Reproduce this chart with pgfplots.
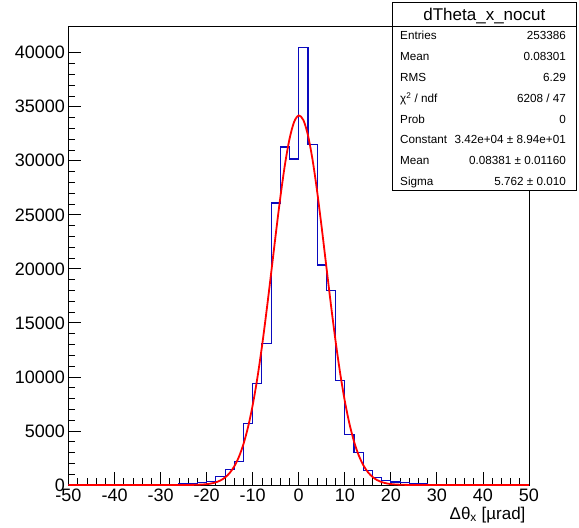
\documentclass[border=0pt]{standalone}
\usepackage{pgfplots}
\pgfplotsset{compat=1.18}
\usepackage{fontspec}
\setmainfont{Liberation Sans}
\definecolor{histblue}{RGB}{10,10,190}
\begin{document}
\begin{tikzpicture}[x=1pt,y=1pt]
\begin{axis}[
  at={(0,0)}, anchor=south west,
  scale only axis, width=460.5pt, height=459pt,
  xmin=-50, xmax=50, ymin=0, ymax=42470,
  scaled y ticks=false, scaled x ticks=false,
  xtick={-50,-40,...,50},
  xticklabels={-50,-40,-30,-20,-10,0,10,20,30,40,50},
  minor x tick num=4,
  ytick={0,5000,...,40000},
  yticklabels={0,5000,10000,15000,20000,25000,30000,35000,40000},
  minor y tick num=4,
  xtick pos=left, ytick pos=left,
  tick align=inside,
  major tick length=13pt, minor tick length=7pt,
  every tick/.style={black, line width=0.8pt},
  axis line style={line width=0.9pt},
  tick label style={font=\fontsize{18}{18}\selectfont},
  clip=true,
]
\addplot[const plot, histblue, line width=1.1pt] coordinates {
(-50,5) (-48,5) (-46,8) (-44,10) (-42,12) (-40,15) (-38,18) (-36,22)
(-34,28) (-32,35) (-30,45) (-28,60) (-26,90) (-24,140) (-22,200) (-20,300)
(-18,750) (-16,1400) (-14,2170) (-12,5690) (-10,9410) (-8,13060) (-6,26090)
(-4,31270) (-2,30160) (0,40450) (2,31480) (4,20360) (6,17980) (8,9660)
(10,4640) (12,2980) (14,1380) (16,670) (18,400) (20,280) (22,190) (24,140)
(26,100) (28,70) (30,50) (32,40) (34,30) (36,25) (38,20) (40,15) (42,12)
(44,10) (46,8) (48,5) (50,5)
};
\addplot[red, line width=1.8pt, smooth] coordinates {
(-50,0) (-30,0) (-25,3) (-22,22) (-20,79) (-19,142) (-18,248) (-17,422)
(-16,695) (-15,1111) (-14,1725) (-13,2596) (-12,3793) (-11,5377) (-10,7395)
(-9,9870) (-8,12782) (-7,16063) (-6,19586) (-5,23173) (-4,26604) (-3,29636)
(-2,32035) (-1,33600) (0,34196) (1,33770) (2,32360) (3,30088) (4,27147)
(5,23766) (6,20189) (7,16641) (8,13309) (9,10329) (10,7778) (11,5683)
(12,4030) (13,2773) (14,1851) (15,1199) (16,754) (17,460) (18,272) (19,156)
(20,87) (22,25) (25,3) (30,0) (50,0)
};
\end{axis}
\node[anchor=base east, font=\fontsize{17}{17}\selectfont] at (460.5,-34) {Δθ\textsubscript{x} [µrad]};
% stats box
\draw[fill=white, line width=0.9pt] (324.2,295) rectangle (507.5,483);
\draw[line width=0.9pt] (324.2,459) -- (507.5,459);
\node[anchor=base, font=\fontsize{17}{17}\selectfont] at (415.85,464.3) {dTheta\_x\_nocut};
\begin{scope}[every node/.style={font=\fontsize{11.7}{11.7}\selectfont, inner sep=0pt}]
\node[anchor=base west] at (331.5,445) {Entries};
\node[anchor=base east] at (497.5,445) {253386};
\node[anchor=base west] at (331.5,424.2) {Mean};
\node[anchor=base east] at (497.5,424.2) {0.08301};
\node[anchor=base west] at (331.5,403.4) {RMS};
\node[anchor=base east] at (497.5,403.4) {6.29};
\node[anchor=base west] at (331.5,382.6) {χ\textsuperscript{2} / ndf};
\node[anchor=base east] at (497.5,382.6) {6208 / 47};
\node[anchor=base west] at (331.5,361.8) {Prob};
\node[anchor=base east] at (497.5,361.8) {0};
\node[anchor=base west] at (331.5,341) {Constant};
\node[anchor=base east] at (497.5,341) {3.42e+04 ± 8.94e+01};
\node[anchor=base west] at (331.5,320.2) {Mean};
\node[anchor=base east] at (497.5,320.2) {0.08381 ± 0.01160};
\node[anchor=base west] at (331.5,299.4) {Sigma};
\node[anchor=base east] at (497.5,299.4) {5.762 ± 0.010};
\end{scope}
\pgfresetboundingbox
\path (-68.5,-43) rectangle (510.5,485);
\end{tikzpicture}
\end{document}
